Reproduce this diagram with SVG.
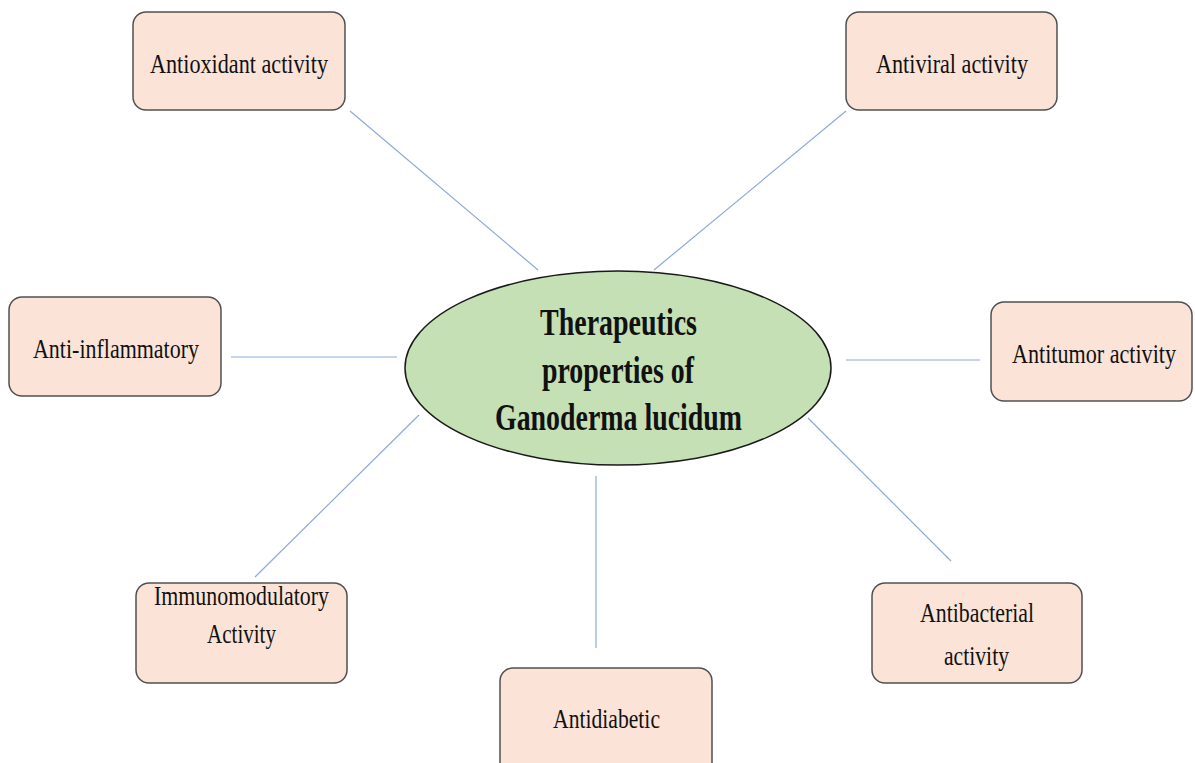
<svg xmlns="http://www.w3.org/2000/svg" width="1195" height="763" viewBox="0 0 1195 763">
<style>
.box{fill:#fbe4d7;stroke:#505050;stroke-width:1.5}
.lbl{font-family:"Liberation Serif","Times New Roman",serif;font-size:27px;fill:#111}
.ctr{font-family:"Liberation Serif","Times New Roman",serif;font-size:37px;font-weight:bold;fill:#111}
.conn line{stroke:#8eaadb;stroke-width:1.2}
</style>
<rect width="1195" height="763" fill="#ffffff"/>
<g class="conn" id="connectors">
<line x1="350" y1="111" x2="538" y2="270"/>
<line x1="846" y1="111" x2="654" y2="270"/>
<line x1="231" y1="357" x2="397" y2="357"/>
<line x1="846" y1="360" x2="980" y2="360"/>
<line x1="255" y1="577" x2="419" y2="415"/>
<line x1="596" y1="476" x2="596" y2="648"/>
<line x1="808" y1="418" x2="951" y2="561"/>
</g>
<g id="center">
<ellipse cx="618" cy="368" rx="213" ry="97" fill="#c5e0b4" stroke="#1a1a1a" stroke-width="1.5"/>
<text class="ctr" x="540" y="335" textLength="157" lengthAdjust="spacingAndGlyphs">Therapeutics</text>
<text class="ctr" x="542" y="383" textLength="152" lengthAdjust="spacingAndGlyphs">properties of</text>
<text class="ctr" x="495" y="430" textLength="247" lengthAdjust="spacingAndGlyphs">Ganoderma lucidum</text>
</g>
<g id="antioxidant">
<rect class="box" x="133" y="12" width="212" height="98" rx="13"/>
<text class="lbl" x="150" y="73" textLength="178" lengthAdjust="spacingAndGlyphs">Antioxidant activity</text>
</g>
<g id="antiviral">
<rect class="box" x="846" y="12" width="211" height="98" rx="13"/>
<text class="lbl" x="876" y="73" textLength="152" lengthAdjust="spacingAndGlyphs">Antiviral activity</text>
</g>
<g id="antiinflammatory">
<rect class="box" x="9" y="297" width="212" height="99" rx="13"/>
<text class="lbl" x="33" y="358" textLength="166" lengthAdjust="spacingAndGlyphs">Anti-inflammatory</text>
</g>
<g id="antitumor">
<rect class="box" x="991" y="302" width="201" height="99" rx="13"/>
<text class="lbl" x="1012" y="363" textLength="164" lengthAdjust="spacingAndGlyphs">Antitumor activity</text>
</g>
<g id="immunomodulatory">
<rect class="box" x="136" y="583" width="211" height="100" rx="13"/>
<text class="lbl" x="154" y="605" textLength="175" lengthAdjust="spacingAndGlyphs">Immunomodulatory</text>
<text class="lbl" x="207" y="643" textLength="69" lengthAdjust="spacingAndGlyphs">Activity</text>
</g>
<g id="antidiabetic">
<rect class="box" x="500" y="668" width="212" height="110" rx="13"/>
<text class="lbl" x="553" y="728" textLength="107" lengthAdjust="spacingAndGlyphs">Antidiabetic</text>
</g>
<g id="antibacterial">
<rect class="box" x="872" y="583" width="210" height="100" rx="13"/>
<text class="lbl" x="920" y="622" textLength="114" lengthAdjust="spacingAndGlyphs">Antibacterial</text>
<text class="lbl" x="944" y="665" textLength="65" lengthAdjust="spacingAndGlyphs">activity</text>
</g>
</svg>
